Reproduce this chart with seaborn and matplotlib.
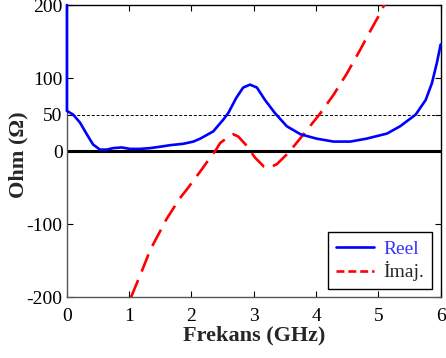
import numpy as np
import pandas as pd
import matplotlib
matplotlib.use("Agg")
import matplotlib.pyplot as plt
import seaborn as sns

# Data
reel_f = [0.0, 0.0, 0.1, 0.21, 0.32, 0.42, 0.53, 0.64, 0.74, 0.88, 1.01, 1.17, 1.33,
          1.5, 1.65, 1.87, 2.03, 2.14, 2.35, 2.51, 2.59, 2.72, 2.83, 2.94, 3.05, 3.18,
          3.34, 3.53, 3.75, 4.01, 4.28, 4.55, 4.81, 5.14, 5.35, 5.6, 5.76, 5.86,
          5.94, 6.0]
reel_v = [200, 55, 50, 39, 23, 9, 2, 2, 4, 5, 3, 3, 4,
          6, 8, 10, 13, 17, 27, 43, 52, 73, 87, 91, 87, 70,
          52, 34, 23, 17, 13, 13, 17, 24, 34, 50, 70, 93,
          121, 146]
imaj_f = [1.03, 1.2, 1.34, 1.6, 1.81, 1.93, 2.14, 2.3, 2.38, 2.46, 2.57, 2.67, 2.75,
          2.89, 3.02, 3.16, 3.24, 3.37, 3.56, 3.8, 4.07, 4.28, 4.5, 4.71, 4.9, 5.03,
          5.11, 5.15]
imaj_v = [-200, -165, -135, -93, -65, -52, -28, -9, 0, 11, 18, 23, 20,
          7, -9, -21, -23, -18, -2, 23, 52, 77, 107, 139, 169, 189,
          203, 210]
x_ticks = [0, 1, 2, 3, 4, 5, 6]
y_ticks = [-200, -100, 0, 50, 100, 200]
series_labels = ["Reel", "İmaj."]

sns.set_style("ticks")
plt.rcParams["font.family"] = ["Liberation Serif", "DejaVu Serif"]
plt.rcParams["axes.unicode_minus"] = False

fig = plt.figure(figsize=(4.46, 3.58), dpi=100)
ax = fig.add_axes([0.150, 0.170, 0.838, 0.816])

df_r = pd.DataFrame({"f": reel_f, "v": reel_v})
df_i = pd.DataFrame({"f": imaj_f, "v": imaj_v})

ax.axhline(0, color="black", lw=2.2, zorder=1)
ax.axhline(50, color="black", lw=0.7, ls=(0, (3, 2)), zorder=1)

n0 = len(ax.lines)
sns.lineplot(data=df_r, x="f", y="v", ax=ax, sort=False, estimator=None,
             color="#0000ff", lw=1.9, label=series_labels[0], zorder=4)
blue = ax.lines[n0]
blue.set_clip_on(False)
blue.set_solid_joinstyle("round")
n1 = len(ax.lines)
sns.lineplot(data=df_i, x="f", y="v", ax=ax, sort=False, estimator=None,
             color="#ff0000", lw=1.9, label=series_labels[1], zorder=3)
red = ax.lines[n1]
red.set_linestyle((0, (7, 3.5)))

ax.set_xlim(0, 6)
ax.set_ylim(-200, 200)
ax.set_xticks(x_ticks)
ax.set_yticks(y_ticks)
ax.tick_params(direction="in", top=True, right=True, length=4, width=0.8,
               labelsize=14, pad=3, colors="black")
ax.tick_params(axis="x", pad=8)
for s in ["left", "bottom"]:
    ax.spines[s].set_color("#555555")
for s in ["top", "right"]:
    ax.spines[s].set_color("black")
for s in ax.spines.values():
    s.set_linewidth(1.0)
    s.set_zorder(2)

ax.set_xlabel("Frekans (GHz)", fontsize=16, fontweight="bold", labelpad=0)
ax.set_ylabel("Ohm (Ω)", fontsize=16, fontweight="bold")
ax.yaxis.set_label_coords(-0.104, 0.486)

leg = ax.legend(loc="lower right", fontsize=14, handlelength=2.0, frameon=True,
                fancybox=False, edgecolor="black", framealpha=1,
                borderpad=0.4, labelspacing=0.2, handletextpad=0.45,
                borderaxespad=0, bbox_to_anchor=(0.976, 0.027))
leg.get_frame().set_linewidth(1.0)
leg.get_texts()[0].set_color("#3333ff")
leg.get_lines()[1].set_linestyle((0, (3, 1.5)))

fig.savefig("out.png", dpi=100)
